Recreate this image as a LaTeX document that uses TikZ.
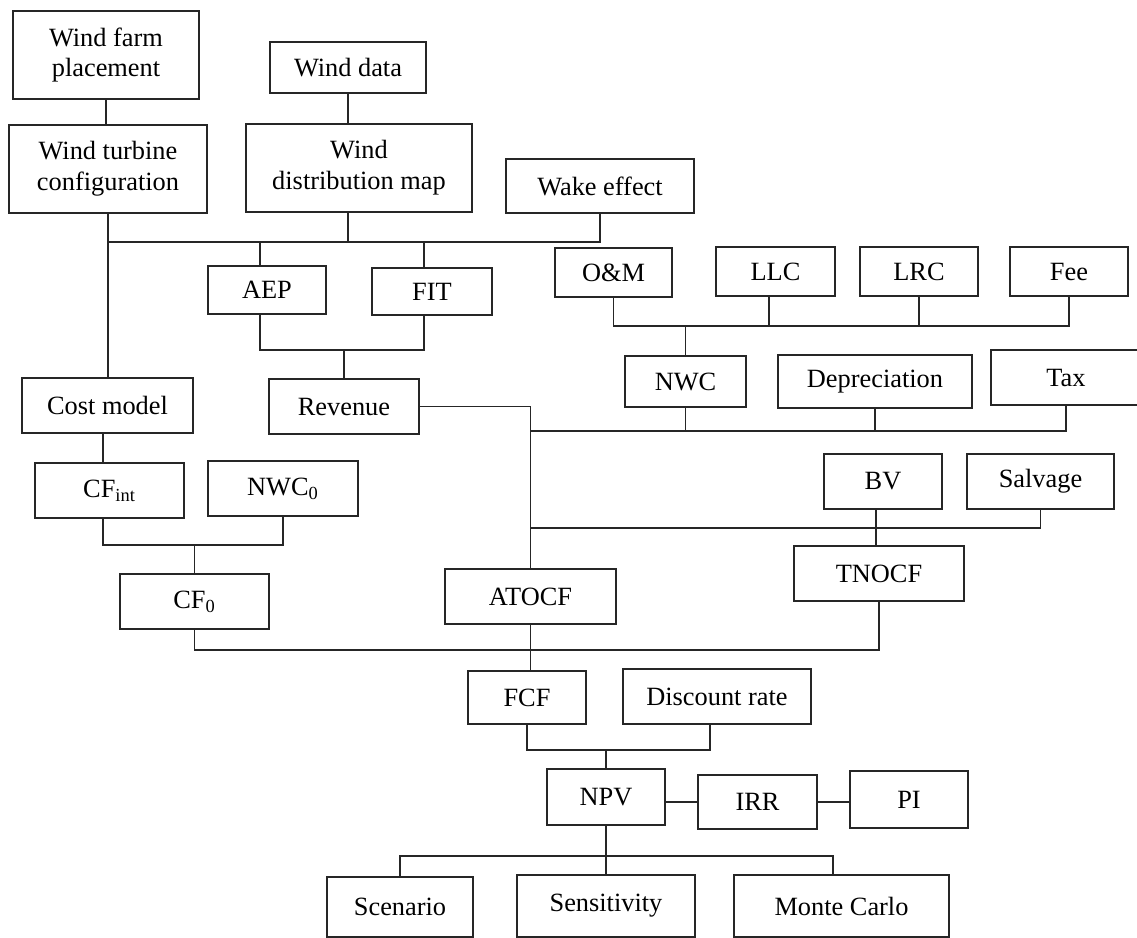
\documentclass[tikz,border=0pt]{standalone}
\usepackage{fontspec}
\setmainfont{Liberation Serif}
\usetikzlibrary{positioning, calc}

\begin{document}
\begin{tikzpicture}[
  blockbox/.style={
    rectangle, draw=black!85, line width=0.9pt, align=center,
    inner sep=0pt, font=\fontsize{15}{17.6}\selectfont
  },
  wire/.style={draw=black!85, line width=0.9pt},
]

\useasboundingbox (0,0) rectangle (22.74,-18.76);

%% ── Wind resource and layout ─────────────────────────────────────────────────
\node[blockbox, minimum width=3.72cm, minimum height=1.76cm] (farm) at (2.12,-1.10) {Wind farm\\placement};
\node[blockbox, minimum width=3.12cm, minimum height=1.02cm] (winddata) at (6.96,-1.35) {Wind data};
\node[blockbox, minimum width=3.96cm, minimum height=1.76cm] (turbine) at (2.16,-3.38) {Wind turbine\\configuration};
\node[blockbox, minimum width=4.52cm, minimum height=1.76cm] (distmap) at (7.18,-3.36) {Wind\\distribution map};
\node[blockbox, minimum width=3.76cm, minimum height=1.08cm] (wake) at (12.00,-3.72) {Wake effect};

%% ── Revenue side ─────────────────────────────────────────────────────────────
\node[blockbox, minimum width=2.36cm, minimum height=0.96cm] (aep) at (5.34,-5.80) {AEP};
\node[blockbox, minimum width=2.40cm, minimum height=0.94cm] (fit) at (8.64,-5.83) {FIT};
\node[blockbox, minimum width=3.00cm, minimum height=1.10cm] (revenue) at (6.88,-8.13) {Revenue};

%% ── Operating costs ──────────────────────────────────────────────────────────
\node[blockbox, minimum width=2.34cm, minimum height=0.98cm] (om) at (12.27,-5.45) {O\&M};
\node[blockbox, minimum width=2.38cm, minimum height=0.98cm] (llc) at (15.51,-5.43) {LLC};
\node[blockbox, minimum width=2.36cm, minimum height=0.98cm] (lrc) at (18.38,-5.43) {LRC};
\node[blockbox, minimum width=2.36cm, minimum height=0.98cm] (fee) at (21.38,-5.43) {Fee};
\node[blockbox, minimum width=2.42cm, minimum height=1.02cm] (nwc) at (13.71,-7.63) {NWC};
\node[blockbox, minimum width=3.88cm, minimum height=1.06cm] (depreciation) at (17.50,-7.63) {Depreciation};
\node[blockbox, minimum width=3.00cm, minimum height=1.10cm] (tax) at (21.32,-7.55) {Tax};

%% ── Initial outlay ───────────────────────────────────────────────────────────
\node[blockbox, minimum width=3.42cm, minimum height=1.10cm] (costmodel) at (2.15,-8.11) {Cost model};
\node[blockbox, minimum width=2.98cm, minimum height=1.10cm] (cfint) at (2.19,-9.81) {CF\textsubscript{int}};
\node[blockbox, minimum width=3.00cm, minimum height=1.10cm] (nwc0) at (5.66,-9.77) {NWC\textsubscript{0}};
\node[blockbox, minimum width=2.98cm, minimum height=1.10cm] (cf0) at (3.89,-12.03) {CF\textsubscript{0}};

%% ── Terminal and operating cash flow ─────────────────────────────────────────
\node[blockbox, minimum width=2.36cm, minimum height=1.10cm] (bv) at (17.66,-9.63) {BV};
\node[blockbox, minimum width=2.94cm, minimum height=1.10cm] (salvage) at (20.81,-9.63) {Salvage};
\node[blockbox, minimum width=3.40cm, minimum height=1.10cm] (tnocf) at (17.58,-11.47) {TNOCF};
\node[blockbox, minimum width=3.42cm, minimum height=1.10cm] (atocf) at (10.61,-11.93) {ATOCF};

%% ── Valuation ────────────────────────────────────────────────────────────────
\node[blockbox, minimum width=2.36cm, minimum height=1.06cm] (fcf) at (10.54,-13.95) {FCF};
\node[blockbox, minimum width=3.76cm, minimum height=1.10cm] (discount) at (14.34,-13.93) {Discount rate};
\node[blockbox, minimum width=2.36cm, minimum height=1.12cm] (npv) at (12.12,-15.94) {NPV};
\node[blockbox, minimum width=2.38cm, minimum height=1.08cm] (irr) at (15.15,-16.04) {IRR};
\node[blockbox, minimum width=2.36cm, minimum height=1.14cm] (pi) at (18.18,-15.99) {PI};
\node[blockbox, minimum width=2.92cm, minimum height=1.20cm] (scenario) at (8.00,-18.14) {Scenario};
\node[blockbox, minimum width=3.56cm, minimum height=1.24cm] (sensitivity) at (12.12,-18.12) {Sensitivity};
\node[blockbox, minimum width=4.30cm, minimum height=1.24cm] (montecarlo) at (16.83,-18.12) {Monte Carlo};

%% ── Bus levels and drop points ───────────────────────────────────────────────
\coordinate (busA) at (0,-4.84);
\coordinate (busB) at (0,-7.00);
\coordinate (busC) at (0,-6.52);
\coordinate (busD) at (0,-8.62);
\coordinate (busE) at (0,-10.56);
\coordinate (busF) at (0,-13.00);
\coordinate (busG) at (0,-10.90);
\coordinate (busH) at (0,-15.00);
\coordinate (busI) at (0,-17.12);

\coordinate (aepx)  at ([xshift=-0.14cm]aep.north);
\coordinate (fitx)  at ([xshift=-0.16cm]fit.north);
\coordinate (llcx)  at ([xshift=-0.13cm]llc.south);
\coordinate (bvx)   at ([xshift=-0.14cm]bv.south);
\coordinate (cfintx) at ([xshift=-0.13cm]cfint.north);
\coordinate (discx) at ([xshift=-0.14cm]discount.south);
\coordinate (mcx)   at ([xshift=-0.17cm]montecarlo.north);

%% ── Connectors ───────────────────────────────────────────────────────────────
\draw[wire] (farm.south) -- (farm.south |- turbine.north);
\draw[wire] (winddata.south) -- (winddata.south |- distmap.north);
\draw[wire] (winddata.south |- distmap.south) -- (winddata.south |- busA);
\draw[wire] (turbine.south) -- (turbine.south |- costmodel.north);
\draw[wire] (turbine.south |- busA) -- (wake.south |- busA) -- (wake.south);
\draw[wire] (aepx |- busA) -- (aepx);
\draw[wire] (fitx |- busA) -- (fitx);
\draw[wire] (aepx |- aep.south) -- (aepx |- busB) -- (fitx |- busB) -- (fitx |- fit.south);
\draw[wire] (revenue.north |- busB) -- (revenue.north);
\draw[wire] (revenue.east) -| (atocf.north);

\draw[wire] (om.south) -- (om.south |- busC) -- (fee.south |- busC) -- (fee.south);
\draw[wire] (llcx) -- (llcx |- busC);
\draw[wire] (lrc.south) -- (lrc.south |- busC);
\draw[wire] (nwc.north |- busC) -- (nwc.north);
\draw[wire] (atocf.north |- busD) -- (tax.south |- busD) -- (tax.south);
\draw[wire] (nwc.south) -- (nwc.south |- busD);
\draw[wire] (depreciation.south) -- (depreciation.south |- busD);

\draw[wire] (atocf.north |- busE) -- (salvage.south |- busE) -- (salvage.south);
\draw[wire] (bvx) -- (bvx |- tnocf.north);

\draw[wire] (cfintx |- costmodel.south) -- (cfintx);
\draw[wire] (cfintx |- cfint.south) -- (cfintx |- busG) -- (nwc0.south |- busG) -- (nwc0.south);
\draw[wire] (cf0.north |- busG) -- (cf0.north);
\draw[wire] (cf0.south) -- (cf0.south |- busF) -- (tnocf.south |- busF) -- (tnocf.south);
\draw[wire] (atocf.south) -- (atocf.south |- fcf.north);

\draw[wire] (fcf.south) -- (fcf.south |- busH) -- (discx |- busH) -- (discx);
\draw[wire] (npv.north |- busH) -- (npv.north);
\draw[wire] (irr.west -| npv.east) -- (irr.west);
\draw[wire] (irr.east) -- (irr.east -| pi.west);
\draw[wire] (npv.south) -- (npv.south |- sensitivity.north);
\draw[wire] (scenario.north) -- (scenario.north |- busI) -- (mcx |- busI) -- (mcx);

\end{tikzpicture}
\end{document}
